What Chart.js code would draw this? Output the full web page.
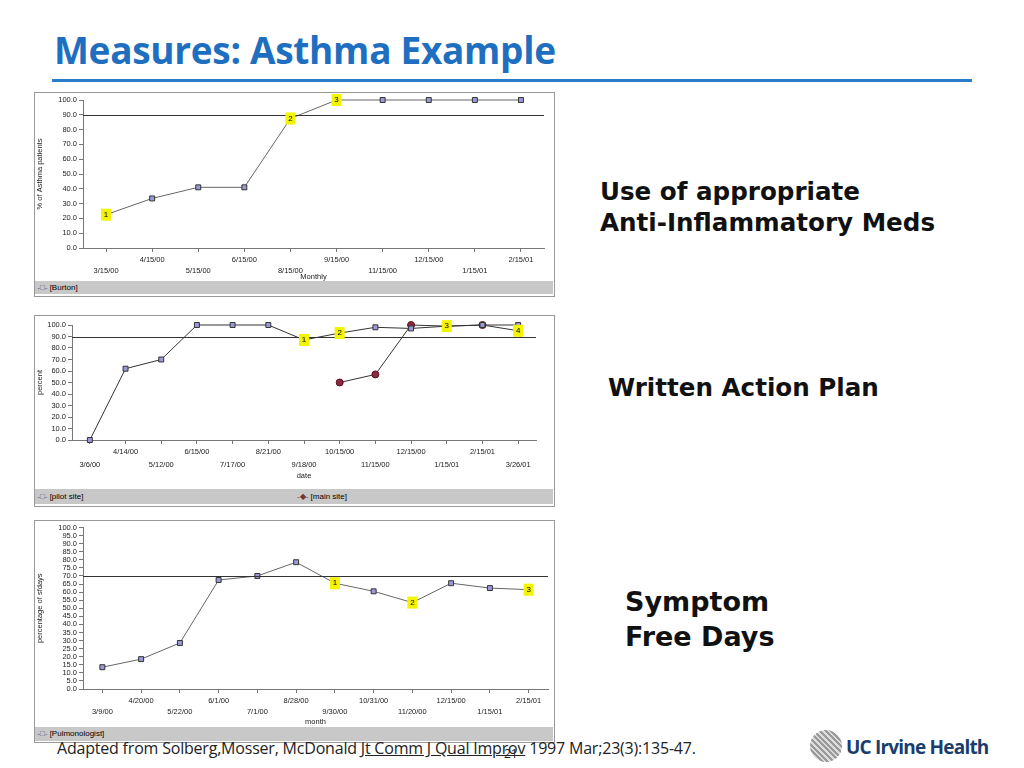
<!DOCTYPE html>
<html><head><meta charset="utf-8">
<script src="https://cdn.jsdelivr.net/npm/chart.js@4"></script>
<style>
body{margin:0;width:1024px;height:768px;background:#fff;position:relative;overflow:hidden;font-family:"Liberation Sans",Arial,sans-serif}
.abs{position:absolute}
.box{position:absolute;border:1px solid #999;background:#fff}
.leg{position:absolute;background:#c8c8c8;font:8px "Liberation Sans";color:#000;line-height:13px}
.side{position:absolute;font:bold 24.6px "DejaVu Sans",Verdana;color:#111;line-height:31px}
</style></head><body>
<div class="abs" style="left:54px;top:24px;font:bold 37px 'Open Sans';color:#1f6fc0;letter-spacing:-0.3px">Measures: Asthma Example</div>
<div class="abs" style="left:52px;top:79px;width:920px;height:3px;background:#2a7bc8"></div>

<div class="box" style="left:34px;top:92px;width:519px;height:203px"></div>
<canvas id="c1" class="abs" style="left:35px;top:93px"></canvas>
<div class="leg" style="left:35px;top:281px;width:518px;height:13px">&nbsp;<span style="color:#557">-□-</span> [Burton]</div>

<div class="box" style="left:34px;top:315px;width:519px;height:190px"></div>
<canvas id="c2" class="abs" style="left:35px;top:316px"></canvas>
<div class="leg" style="left:35px;top:489px;width:518px;height:15px;line-height:15px">&nbsp;<span style="color:#557">-□-</span> [pilot site]<span style="position:absolute;left:262px"><span style="color:#733">-◆-</span> [main site]</span></div>

<div class="box" style="left:34px;top:520px;width:519px;height:221px"></div>
<canvas id="c3" class="abs" style="left:35px;top:521px"></canvas>
<div class="leg" style="left:35px;top:727px;width:518px;height:14px">&nbsp;<span style="color:#557">-□-</span> [Pulmonologist]</div>

<div class="side" style="left:600px;top:176px">Use of appropriate<br>Anti-Inflammatory Meds</div>
<div class="side" style="left:608px;top:372px">Written Action Plan</div>
<div class="side" style="left:625px;top:584px;font-size:27px;line-height:35px">Symptom<br>Free Days</div>

<div class="abs" style="left:57px;top:737px;font:16px 'Open Sans';color:#222;letter-spacing:-0.2px">Adapted from Solberg,Mosser, McDonald <u>Jt Comm J Qual Improv</u> 1997 Mar;23(3):135-47.</div>
<div class="abs" style="left:504px;top:745px;font:12px 'Open Sans';color:#222">21</div>
<div class="abs" style="left:810px;top:730px;width:32px;height:32px;border-radius:50%;background:repeating-linear-gradient(45deg,#999 0 2px,#ddd 2px 4px)"></div>
<div class="abs" style="left:846px;top:734px;font:bold 19px 'Open Sans';color:#1a3d6e;letter-spacing:-0.8px">UC Irvine Health</div>

<script>
const cats1=['3/15/00','4/15/00','5/15/00','6/15/00','8/15/00','9/15/00','11/15/00','12/15/00','1/15/01','2/15/01'];
const burton=[22.5,33.5,41,41,87.5,100,100,100,100,100];
const marks1=[[0,'1'],[4,'2'],[5,'3']];
const target1=90;

const cats2=['3/6/00','4/14/00','5/12/00','6/15/00','7/17/00','8/21/00','9/18/00','10/15/00','11/15/00','12/15/00','1/15/01','2/15/01','3/26/01'];
const pilot=[0,62,70,100,100,100,87,93,98,97,99,100,100];
const mainSite=[null,null,null,null,null,null,null,50,57,100,99,100,95];
const marks2p=[[6,'1'],[7,'2']];
const marks2m=[[10,'3'],[12,'4']];
const target2=90;

const cats3=['3/9/00','4/20/00','5/22/00','6/1/00','7/1/00','8/28/00','9/30/00','10/31/00','11/20/00','12/15/00','1/15/01','2/15/01'];
const pulmo=[13.5,18.5,28.5,67.5,70,78.5,65.5,60.5,53.5,65.5,62.5,61.5];
const marks3=[[6,'1'],[8,'2'],[11,'3']];
const target3=70;

const F='"Liberation Sans",Arial';
const refPlugin={id:'ref',afterDatasetsDraw(ch){const v=ch.options.plugins.ref.value;const y=ch.scales.y.getPixelForValue(v);const a=ch.chartArea;const c=ch.ctx;c.save();c.strokeStyle='#333';c.lineWidth=1;c.beginPath();c.moveTo(a.left,Math.round(y)+.5);c.lineTo(a.right,Math.round(y)+.5);c.stroke();c.restore();}};
const markPlugin={id:'marks',afterDatasetsDraw(ch){const list=ch.options.plugins.marks.list;const c=ch.ctx;c.save();list.forEach(([ds,arr])=>{arr.forEach(([i,t])=>{const p=ch.getDatasetMeta(ds).data[i];c.fillStyle='#f4f400';c.fillRect(p.x-5,p.y-6,10,12);c.fillStyle='#000';c.font='8px '+F;c.textAlign='center';c.textBaseline='middle';c.fillText(t,p.x,p.y);});});c.restore();}};

function mk(id,w,h,cats,datasets,opt){
  const cv=document.getElementById(id);cv.width=w;cv.height=h;cv.style.width=w+'px';cv.style.height=h+'px';
  new Chart(cv,{type:'line',data:{labels:cats.map((l,i)=>i%2?[l,'']:['',l]),datasets},
  options:{responsive:false,animation:false,devicePixelRatio:1,
   layout:{padding:{top:opt.pt,right:opt.pr,left:0,bottom:0}},
   plugins:{legend:{display:false},tooltip:{enabled:false},ref:{value:opt.target},marks:{list:opt.marks}},
   scales:{
    x:{offset:true,grid:{drawOnChartArea:false,tickLength:4,color:'#777'},border:{color:'#777'},
       ticks:{font:{size:7.5,family:F,lineHeight:opt.lh},color:'#222',maxRotation:0,autoSkip:false,padding:2},
       title:{display:true,text:opt.xt,font:{size:7.5,family:F},color:'#222',padding:{top:0,bottom:opt.tb}},
       afterFit(s){s.height=opt.xh;}},
    y:{min:0,max:100,grid:{drawOnChartArea:false,tickLength:4,color:'#777'},border:{color:'#777'},
       ticks:{stepSize:opt.step,autoSkip:false,font:{size:7.5,family:F},color:'#222',callback:v=>v.toFixed(1),padding:2},
       title:{display:true,text:opt.yt,font:{size:7.5,family:F},color:'#222',padding:0},
       afterFit(s){s.width=opt.yw;}}
   }},plugins:[refPlugin,markPlugin]});
}
const sq={borderColor:'#666',borderWidth:1,pointStyle:'rect',pointRadius:3.5,pointBackgroundColor:'#9a9ad8',pointBorderColor:'#333',tension:0,clip:false};
mk('c1',518,188,cats1,[{...sq,data:burton}],{pt:7,pr:9,xh:33,yw:48,step:10,lh:1.5,tb:0,target:target1,marks:[[0,marks1]],xt:'Monthly',yt:'% of Asthma patients'});
mk('c2',518,172,cats2,[{...sq,data:pilot,borderColor:'#333'},{data:mainSite,clip:false,borderColor:'#333',borderWidth:1,pointStyle:'circle',pointRadius:3.5,pointBackgroundColor:'#8a2a40',pointBorderColor:'#5a1020',spanGaps:false}],{pt:9,pr:17,xh:48,yw:37,step:10,lh:1.7,tb:8,target:target2,marks:[[0,marks2p],[1,marks2m]],xt:'date',yt:'percent'});
mk('c3',518,205,cats3,[{...sq,data:pulmo}],{pt:5,pr:1,xh:37,yw:48,step:5,lh:1.5,tb:0,target:target3,marks:[[0,marks3]],xt:'month',yt:'percentage of sfdays'});
</script></body></html>
